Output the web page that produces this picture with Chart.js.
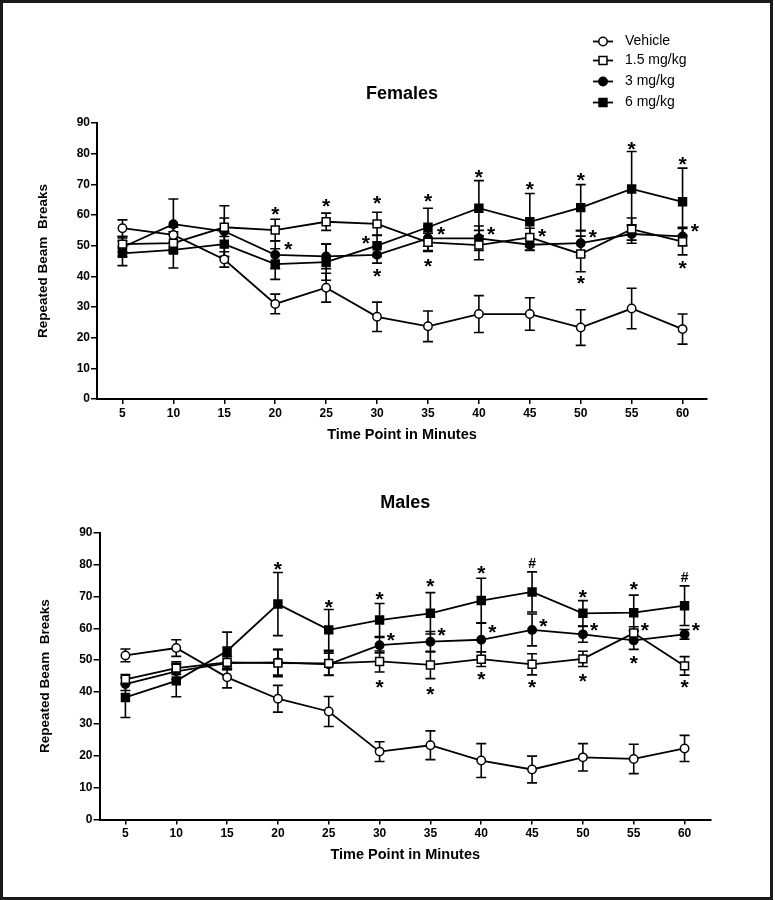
<!DOCTYPE html>
<html>
<head>
<meta charset="utf-8">
<script src="https://cdn.jsdelivr.net/npm/chart.js@4.4.0/dist/chart.umd.min.js"></script>
<style>
  body { margin: 0; background: #fff; }
  #frame { position: absolute; left: 0; top: 0; width: 773px; height: 900px; box-sizing: border-box; border: 3px solid #1a1a1a; }
  canvas { position: absolute; left: 0; }
  #females { top: 0; }
  #males { top: 450px; }
</style>
</head>
<body>
<div id="frame"></div>
<canvas id="females" width="775" height="450"></canvas>
<canvas id="males" width="775" height="450"></canvas>
<script>
var FONT = "'Liberation Sans', Arial, sans-serif";

// time points (minutes) and groups
var minutes = [5, 10, 15, 20, 25, 30, 35, 40, 45, 50, 55, 60];
var groups = ['Vehicle', '1.5 mg/kg', '3 mg/kg', '6 mg/kg'];
var yTicks = [0, 10, 20, 30, 40, 50, 60, 70, 80, 90];

// Females - means
var fVehicle = [55.7, 53.5, 45.5, 31.0, 36.3, 26.8, 23.7, 27.7, 27.7, 23.3, 29.5, 22.8];
var f15      = [50.5, 50.8, 56.0, 55.1, 57.8, 57.1, 51.1, 50.2, 52.7, 47.3, 55.4, 51.3];
var f3       = [49.5, 57.0, 54.7, 47.0, 46.5, 47.0, 52.4, 52.4, 50.3, 50.8, 53.8, 53.0];
var f6       = [47.5, 48.6, 50.5, 44.0, 44.6, 50.0, 56.0, 62.2, 57.8, 62.4, 68.5, 64.3];
// Females - error (SEM)
var fVehicleErr = [2.7, 2.5, 2.5, 3.2, 4.7, 4.8, 5.0, 6.0, 5.3, 5.8, 6.6, 4.9];
var f15Err      = [2.5, 3.0, 3.0, 3.5, 2.8, 3.8, 3.0, 4.8, 3.0, 5.8, 3.6, 4.3];
var f3Err       = [3.0, 8.2, 8.3, 4.5, 4.0, 2.7, 4.0, 4.0, 1.9, 4.1, 3.0, 3.0];
var f6Err       = [4.0, 5.9, 4.0, 5.0, 5.9, 3.5, 6.2, 9.0, 9.2, 7.5, 12.2, 11.0];

// Males - means
var mVehicle = [51.5, 53.8, 44.6, 37.9, 33.9, 21.3, 23.3, 18.5, 15.7, 19.5, 19.0, 22.3];
var m15      = [44.0, 47.5, 49.3, 49.1, 49.0, 49.6, 48.5, 50.3, 48.7, 50.4, 58.5, 48.2];
var m3       = [42.5, 46.5, 49.1, 49.3, 48.7, 54.7, 55.8, 56.4, 59.5, 58.1, 56.2, 58.1];
var m6       = [38.3, 43.5, 52.9, 67.6, 59.5, 62.6, 64.7, 68.7, 71.4, 64.7, 64.9, 67.1];
// Males - error (SEM)
var mVehicleErr = [2.0, 2.6, 3.3, 4.2, 4.7, 3.1, 4.5, 5.3, 4.2, 4.3, 4.6, 4.1];
var m15Err      = [1.5, 2.0, 2.0, 4.3, 3.7, 3.3, 4.3, 2.3, 3.3, 2.4, 2.0, 2.9];
var m3Err       = [2.0, 2.5, 2.0, 4.0, 3.5, 2.4, 3.2, 5.2, 5.0, 2.5, 2.8, 1.5];
var m6Err       = [6.3, 5.0, 5.9, 9.9, 6.4, 5.2, 6.5, 7.0, 6.3, 4.0, 5.5, 6.2];

// significance marks [minute, value, symbol]
var femaleMarks = [
  [20, 61.4, '*'], [21.3, 50, '*'], [25, 64, '*'], [30, 65, '*'], [28.9, 52, '*'], [30, 41, '*'],
  [35, 65.4, '*'], [36.3, 54.7, '*'], [35, 44.2, '*'], [40, 73.4, '*'], [41.2, 54.7, '*'],
  [45, 69.6, '*'], [46.2, 54.2, '*'], [50, 72.3, '*'], [51.2, 53.8, '*'], [50, 38.8, '*'],
  [55, 82.6, '*'], [60, 77.5, '*'], [61.2, 55.8, '*'], [60, 43.7, '*']
];
var maleMarks = [
  [20, 79.5, '*'], [25, 67.6, '*'], [30, 70.1, '*'], [31.1, 57.4, '*'], [30, 42.5, '*'],
  [35, 74.1, '*'], [36.1, 58.7, '*'], [35, 40.4, '*'], [40, 78.3, '*'], [41.1, 59.7, '*'], [40, 44.9, '*'],
  [45, 80.6, '#'], [46.1, 61.6, '*'], [45, 42.5, '*'], [50, 70.8, '*'], [51.1, 60.5, '*'], [50, 44.4, '*'],
  [55, 73.3, '*'], [56.1, 60.5, '*'], [55, 49.9, '*'], [60, 76.2, '#'], [61.1, 60.5, '*'], [60, 42.5, '*']
];

var pointStyles = ['circle', 'rect', 'circle', 'rect'];
var pointFills = ['#fff', '#fff', '#000', '#000'];
var pointSizes = [4.2, 5.6, 4.2, 5.6];

function makeDatasets(series, errs) {
  return groups.map(function(name, g) {
    return {
      label: name,
      data: minutes.map(function(m, i) { return { x: m, y: series[g][i] }; }),
      errors: errs[g],
      borderColor: '#000',
      borderWidth: 1.8,
      pointStyle: pointStyles[g],
      pointRadius: pointSizes[g],
      pointBackgroundColor: pointFills[g],
      pointBorderColor: '#000',
      pointBorderWidth: 1.5,
      fill: false,
      tension: 0
    };
  });
}

// error bars drawn under the lines
var errorBars = {
  id: 'errorBars',
  beforeDatasetsDraw: function(chart) {
    var ctx = chart.ctx, xs = chart.scales.x, ys = chart.scales.y;
    ctx.save();
    ctx.strokeStyle = '#000';
    ctx.lineWidth = 1.6;
    chart.data.datasets.forEach(function(ds) {
      ds.data.forEach(function(p, i) {
        var x = xs.getPixelForValue(p.x);
        var top = ys.getPixelForValue(p.y + ds.errors[i]);
        var bot = ys.getPixelForValue(p.y - ds.errors[i]);
        ctx.beginPath();
        ctx.moveTo(x, top); ctx.lineTo(x, bot);
        ctx.moveTo(x - 5, top); ctx.lineTo(x + 5, top);
        ctx.moveTo(x - 5, bot); ctx.lineTo(x + 5, bot);
        ctx.stroke();
      });
    });
    ctx.restore();
  }
};

function markPlugin(marks) {
  return {
    id: 'sigMarks',
    afterDatasetsDraw: function(chart) {
      var ctx = chart.ctx, xs = chart.scales.x, ys = chart.scales.y;
      ctx.save();
      ctx.fillStyle = '#000';
      ctx.textAlign = 'center';
      ctx.textBaseline = 'alphabetic';
      marks.forEach(function(m) {
        ctx.font = m[2] === '#' ? 'bold 14px ' + FONT : 'bold 21px ' + FONT;
        var tm = ctx.measureText(m[2]);
        var px = xs.getPixelForValue(m[0]);
        var py = ys.getPixelForValue(m[1]);
        ctx.fillText(m[2], px, py + (tm.actualBoundingBoxAscent - tm.actualBoundingBoxDescent) / 2);
      });
      ctx.restore();
    }
  };
}

// legend in the top right corner of the page
var legendRows = [41.5, 60.5, 81.5, 102.5];
var legendBox = {
  id: 'legendBox',
  afterDraw: function(chart) {
    var ctx = chart.ctx;
    ctx.save();
    chart.data.datasets.forEach(function(ds, i) {
      var y = legendRows[i];
      ctx.strokeStyle = '#000';
      ctx.lineWidth = 1.8;
      ctx.beginPath();
      ctx.moveTo(593, y); ctx.lineTo(613, y);
      ctx.stroke();
      ctx.fillStyle = pointFills[i];
      ctx.lineWidth = 1.5;
      Chart.helpers.drawPoint(ctx, { pointStyle: pointStyles[i], radius: pointSizes[i], borderWidth: 1.5, rotation: 0 }, 603, y);
      ctx.fillStyle = '#000';
      ctx.font = '14px ' + FONT;
      ctx.textAlign = 'left';
      ctx.textBaseline = 'middle';
      ctx.fillText(ds.label, 625, y);
    });
    ctx.restore();
  }
};

function makeOptions(title, titlePad, xMin, xMax, padding, xHeight) {
  return {
    responsive: false,
    animation: false,
    layout: { padding: padding },
    plugins: {
      legend: { display: false },
      tooltip: { enabled: false },
      title: {
        display: true, text: title, color: '#000', fullSize: false,
        font: { family: FONT, size: 18, weight: 'bold' },
        padding: titlePad
      }
    },
    scales: {
      x: {
        type: 'linear', min: xMin, max: xMax,
        afterBuildTicks: function(s) { s.ticks = minutes.map(function(v) { return { value: v }; }); },
        afterFit: function(s) { s.height = xHeight; },
        grid: { drawOnChartArea: false, tickLength: 5, color: '#000', lineWidth: 1.5 },
        border: { color: '#000', width: 2 },
        ticks: { color: '#000', padding: 2, autoSkip: false, maxRotation: 0, font: { family: FONT, size: 12, weight: 'bold' } },
        title: { display: true, text: 'Time Point in Minutes', color: '#000', padding: 0, font: { family: FONT, size: 14.5, weight: 'bold' } }
      },
      y: {
        min: 0, max: 90,
        afterBuildTicks: function(s) { s.ticks = yTicks.map(function(v) { return { value: v }; }); },
        afterFit: function(s) { s.width = 62; },
        grid: { drawOnChartArea: false, tickLength: 6, color: '#000', lineWidth: 1.5 },
        border: { color: '#000', width: 2 },
        ticks: { color: '#000', padding: 1, font: { family: FONT, size: 12, weight: 'bold' } },
        title: { display: true, text: 'Repeated Beam  Breaks', color: '#000', padding: 0, font: { family: FONT, size: 13.5, weight: 'bold' } }
      }
    }
  };
}

new Chart(document.getElementById('females'), {
  type: 'line',
  data: { datasets: makeDatasets([fVehicle, f15, f3, f6], [fVehicleErr, f15Err, f3Err, f6Err]) },
  options: makeOptions('Females', { top: 82.9, bottom: 18.5 }, 2.5, 62.4,
    { left: 35, right: 68, top: 0, bottom: 6.3 }, 44.7),
  plugins: [errorBars, markPlugin(femaleMarks), legendBox]
});

new Chart(document.getElementById('males'), {
  type: 'line',
  data: { datasets: makeDatasets([mVehicle, m15, m3, m6], [mVehicleErr, m15Err, m3Err, m6Err]) },
  options: makeOptions('Males', { top: 42.5, bottom: 18.6 }, 2.45, 62.6,
    { left: 37.5, right: 64, top: 0, bottom: 36.3 }, 44.2),
  plugins: [errorBars, markPlugin(maleMarks)]
});
</script>
</body>
</html>
